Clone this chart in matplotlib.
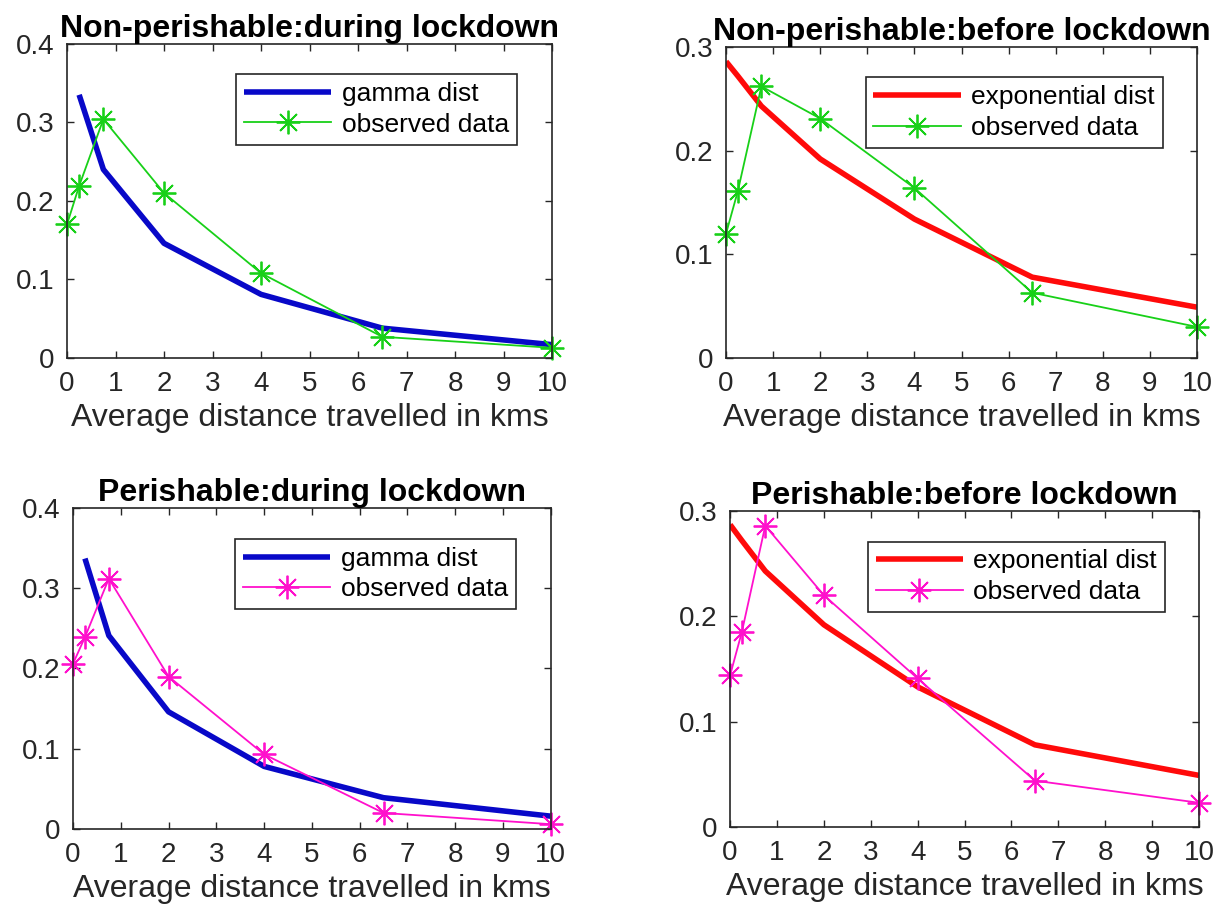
import numpy as np
import matplotlib
matplotlib.use('Agg')
import matplotlib.pyplot as plt

plt.rcParams['font.family'] = ['Liberation Sans', 'DejaVu Sans']

# distances (km)
x_obs = [0, 0.25, 0.75, 2, 4, 6.5, 10]
x_fit_gamma = [0.25, 0.75, 2, 4, 6.5, 10]
x_fit_exp = [0, 0.25, 0.75, 2, 4, 6.5, 10]

# non-perishable, during lockdown
np_during_obs = [0.170, 0.219, 0.304, 0.210, 0.108, 0.027, 0.013]
np_during_gamma = [0.335, 0.240, 0.146, 0.081, 0.038, 0.017]
# non-perishable, before lockdown
np_before_obs = [0.120, 0.161, 0.262, 0.231, 0.164, 0.063, 0.030]
np_before_exp = [0.286, 0.272, 0.243, 0.192, 0.134, 0.078, 0.049]
# perishable, during lockdown
p_during_obs = [0.206, 0.239, 0.312, 0.190, 0.093, 0.020, 0.006]
p_during_gamma = [0.337, 0.241, 0.146, 0.078, 0.039, 0.016]
# perishable, before lockdown
p_before_obs = [0.144, 0.185, 0.286, 0.220, 0.141, 0.044, 0.023]
p_before_exp = [0.287, 0.272, 0.243, 0.192, 0.133, 0.078, 0.049]

BLUE = '#0808c8'
RED = '#ff0a0a'
GREEN = '#18d018'
MAGENTA = '#ff10cc'
TXT = '#262626'

fig = plt.figure(figsize=(12.25, 9.11), dpi=100)

panels = [
    # rect, title, fit x, fit y, fit colour, fit label, obs y, obs colour, ymax
    ([0.0547, 0.607, 0.396, 0.345], 'Non-perishable:during lockdown',
     x_fit_gamma, np_during_gamma, BLUE, 'gamma dist', np_during_obs, GREEN, 0.4),
    ([0.5927, 0.607, 0.3845, 0.3414], 'Non-perishable:before lockdown',
     x_fit_exp, np_before_exp, RED, 'exponential dist', np_before_obs, GREEN, 0.3),
    ([0.0596, 0.090, 0.390, 0.3524], 'Perishable:during lockdown',
     x_fit_gamma, p_during_gamma, BLUE, 'gamma dist', p_during_obs, MAGENTA, 0.4),
    ([0.596, 0.0922, 0.3828, 0.3469], 'Perishable:before lockdown',
     x_fit_exp, p_before_exp, RED, 'exponential dist', p_before_obs, MAGENTA, 0.3),
]

for rect, title, xf, yf, cf, lab, yo, co, ymax in panels:
    ax = fig.add_axes(rect)
    ax.plot(xf, yf, color=cf, lw=4, label=lab, solid_capstyle='butt')
    ax.plot(x_obs, yo, color=co, lw=1.3, marker=(8, 2, 0), markersize=17,
            markeredgewidth=1.3, label='observed data', clip_on=False)
    ax.set_xlim(0, 10)
    ax.set_ylim(0, ymax)
    ax.set_xticks(np.arange(0, 11, 1))
    ax.set_yticks(np.arange(0, ymax + 0.01, 0.1))
    ax.set_yticklabels(['0'] + ['%.1f' % v for v in np.arange(0.1, ymax + 0.01, 0.1)])
    ax.tick_params(direction='in', top=True, right=True, length=5, width=1,
                   colors=TXT, labelsize=20, pad=9)
    for s in ax.spines.values():
        s.set_color(TXT)
        s.set_linewidth(1.2)
    ax.set_xlabel('Average distance travelled in kms', fontsize=23, color=TXT, labelpad=5)
    ax.set_title(title, fontsize=23, fontweight='bold', pad=5)
    leg = ax.legend(loc='upper right', bbox_to_anchor=(0.955, 0.945), fontsize=19,
                    fancybox=False, framealpha=1, edgecolor=TXT, handlelength=3.3,
                    borderpad=0.3, labelspacing=0.25, handletextpad=0.4)
    leg.get_frame().set_linewidth(1.2)

fig.savefig('out.png', dpi=100)
